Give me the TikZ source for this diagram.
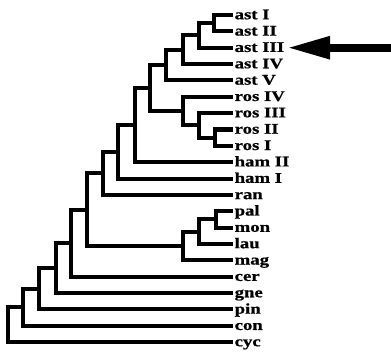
\documentclass[tikz,border=0pt]{standalone}
\usepackage{fontspec}
\newfontfamily\taxonfont[FakeStretch=1.27,BoldFeatures={FakeBold=0.8}]{Liberation Serif}
\usetikzlibrary{arrows.meta}
\begin{document}
\begin{tikzpicture}[x=0.025cm,y=-0.40875cm,
            branch/.style={line width=2.9pt},
            leaf/.style={anchor=west,inner xsep=1pt,inner ysep=0pt,text height=7pt,text depth=1pt,
              font=\taxonfont\bfseries\fontsize{10.5pt}{12pt}\selectfont},
            pointer/.style={line width=5.8pt,shorten >=0.5pt,-{Triangle[length=31pt,width=15pt]}}]

        \useasboundingbox (0,-0.9174) rectangle (391,20.55);

        % Define leaves
        \foreach \name [count=\i from 0] in {ast I,ast II,ast III,ast IV,ast V,ros IV,ros III,ros II,ros I,
            ham II,ham I,ran,pal,mon,lau,mag,cer,gne,pin,con,cyc}
            \node[leaf] (l\i) at (233,\i) {\name};

        % Define internal nodes
        \coordinate (a1) at (214,0.5);
        \coordinate (a2) at (199,1.25);
        \coordinate (a3) at (183,2.125);
        \coordinate (a4) at (166,3.0625);
        \coordinate (r1) at (215,7.5);
        \coordinate (r2) at (199,6.75);
        \coordinate (r3) at (183,5.875);
        \coordinate (m1) at (216,12.5);
        \coordinate (m2) at (199,13.25);
        \coordinate (m3) at (183,14.125);
        \coordinate (n1) at (150,4.469);
        \coordinate (n2) at (135,6.734);
        \coordinate (n3) at (118,8.367);
        \coordinate (n4) at (103,9.684);
        \coordinate (n5) at (87,11.904);
        \coordinate (n6) at (71,13.952);
        \coordinate (n7) at (56,15.476);
        \coordinate (n8) at (39,16.738);
        \coordinate (n9) at (23,17.869);
        \coordinate (n10) at (8,18.935);
        \coordinate (tail) at (391,2);

        % Draw edges
        \draw[branch] (l0.west) -| (a1) |- (l1.west);
        \draw[branch] (a1) -| (a2) |- (l2.west);
        \draw[branch] (a2) -| (a3) |- (l3.west);
        \draw[branch] (a3) -| (a4) |- (l4.west);
        \draw[branch] (l7.west) -| (r1) |- (l8.west);
        \draw[branch] (l6.west) -| (r2) |- (r1);
        \draw[branch] (l5.west) -| (r3) |- (r2);
        \draw[branch] (a4) -| (n1) |- (r3);
        \draw[branch] (n1) -| (n2) |- (l9.west);
        \draw[branch] (n2) -| (n3) |- (l10.west);
        \draw[branch] (n3) -| (n4) |- (l11.west);
        \draw[branch] (l12.west) -| (m1) |- (l13.west);
        \draw[branch] (m1) -| (m2) |- (l14.west);
        \draw[branch] (m2) -| (m3) |- (l15.west);
        \draw[branch] (n4) -| (n5) |- (m3);
        \draw[branch] (n5) -| (n6) |- (l16.west);
        \draw[branch] (n6) -| (n7) |- (l17.west);
        \draw[branch] (n7) -| (n8) |- (l18.west);
        \draw[branch] (n8) -| (n9) |- (l19.west);
        \draw[branch] (n9) -| (n10) |- (l20.west);

        \draw[pointer] (tail) -- (l2.east);

        \end{tikzpicture}
\end{document}
